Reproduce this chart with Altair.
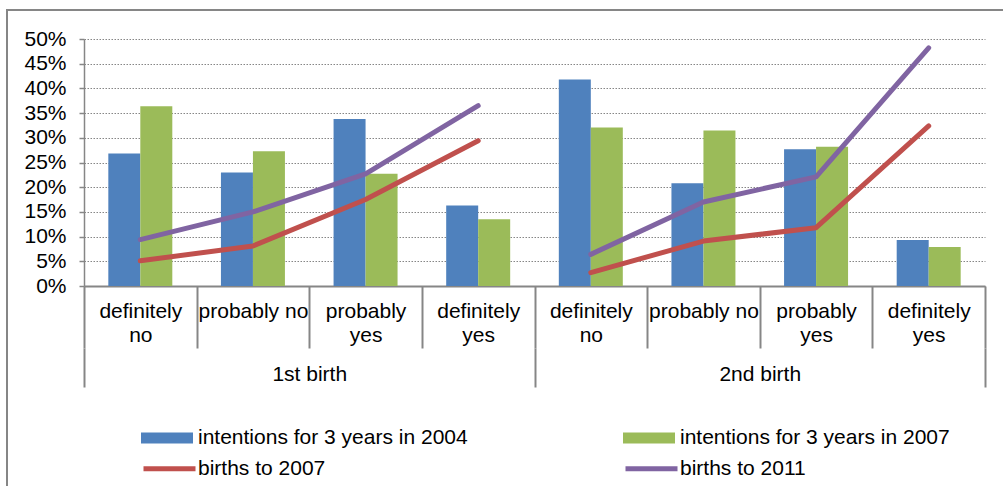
import altair as alt
import pandas as pd

# Categories: birth order groups and answer levels
groups = ["1st birth", "2nd birth"]
answers = ["definitely no", "probably no", "probably yes", "definitely yes"]

# Series names
bar_series = ["intentions for 3 years in 2004", "intentions for 3 years in 2007"]
line_series = ["births to 2007", "births to 2011"]

# Values in percent, ordered 1st birth (4 answers) then 2nd birth (4 answers)
intent_2004 = [26.8, 23.0, 33.8, 16.3, 41.8, 20.8, 27.7, 9.3]
intent_2007 = [36.4, 27.3, 22.7, 13.5, 32.1, 31.5, 28.2, 7.9]
births_2007 = [5.1, 8.1, 17.5, 29.4, 2.7, 9.1, 11.8, 32.4]
births_2011 = [9.4, 15.0, 22.7, 36.5, 6.4, 17.0, 22.1, 48.2]

# Y axis tick values (fractions)
y_ticks = [0.0, 0.05, 0.10, 0.15, 0.20, 0.25, 0.30, 0.35, 0.40, 0.45, 0.50]

FONT = "Liberation Sans"
BLUE, GREEN, RED, PURPLE = "#4F81BD", "#9BBB59", "#C0504D", "#8064A2"
GRAY = "#868686"

W, H = 901, 247

keys = [f"{g} | {a}" for g in groups for a in answers]
key_group = [g for g in groups for _ in answers]

bar_rows = []
for name, vals in zip(bar_series, [intent_2004, intent_2007]):
    for k, v in zip(keys, vals):
        bar_rows.append({"key": k, "series": name, "value": v / 100})
bars_df = pd.DataFrame(bar_rows)

line_rows = []
for name, vals in zip(line_series, [births_2007, births_2011]):
    for i, (k, g, v) in enumerate(zip(keys, key_group, vals)):
        line_rows.append({"key": k, "group": g, "idx": i, "series": name, "value": v / 100})
lines_df = pd.DataFrame(line_rows)

# Answer label under each band; "probably no" fits on one line, the rest wrap
label_expr = (
    "indexof(datum.label + '', ' | ') < 0 ? '' : "
    "(split(datum.label, ' | ')[1] == 'probably no' ? 'probably no' : "
    "split(split(datum.label, ' | ')[1], ' '))"
)

x_enc = alt.X(
    "key:N",
    sort=keys,
    scale=alt.Scale(type="band", paddingInner=0, paddingOuter=0),
    axis=alt.Axis(
        title=None,
        labelExpr=label_expr,
        labelAngle=0,
        labelOverlap=False,
        labelFont=FONT,
        labelFontSize=21,
        labelColor="black",
        labelLineHeight=24,
        labelPadding=-48,
        tickBand="extent",
        tickSize=62,
        tickWidth=2,
        tickColor=GRAY,
        domainColor=GRAY,
        domainWidth=2,
        grid=False,
    ),
)

y_enc = alt.Y(
    "value:Q",
    scale=alt.Scale(domain=[0, 0.5], nice=False, zero=True),
    axis=alt.Axis(
        title=None,
        values=y_ticks,
        format=".0%",
        labelFont=FONT,
        labelFontSize=21,
        labelColor="black",
        labelPadding=13,
        tickSize=5,
        tickWidth=1.5,
        tickColor=GRAY,
        domainColor=GRAY,
        domainWidth=1.5,
        grid=True,
        gridColor=GRAY,
        gridDash=[1.5, 1.5],
        gridWidth=1,
    ),
)

bars = alt.Chart(bars_df).mark_bar().encode(
    x=x_enc,
    xOffset=alt.XOffset(
        "series:N",
        sort=bar_series,
        scale=alt.Scale(domain=bar_series, paddingInner=0, paddingOuter=0.76),
    ),
    y=y_enc,
    color=alt.Color(
        "series:N",
        scale=alt.Scale(domain=bar_series, range=[BLUE, GREEN]),
        legend=alt.Legend(
            title=None,
            orient="none",
            legendX=57,
            legendY=373,
            direction="horizontal",
            columns=2,
            columnPadding=155,
            padding=0,
            symbolType="M-1,-0.21L1,-0.21L1,0.21L-1,0.21Z",
            symbolSize=2704,
            symbolStrokeWidth=0,
            labelOffset=5,
            labelFont=FONT,
            labelFontSize=21,
            labelColor="black",
            labelLimit=400,
        ),
    ),
)

lines = alt.Chart(lines_df).mark_line(strokeWidth=5, strokeCap="round", strokeJoin="round").encode(
    x=x_enc,
    y=y_enc,
    detail="group:N",
    order=alt.Order("idx:Q"),
    color=alt.Color(
        "series:N",
        scale=alt.Scale(domain=line_series, range=[RED, PURPLE]),
        legend=alt.Legend(
            title=None,
            orient="none",
            legendX=57,
            legendY=401,
            direction="horizontal",
            columns=2,
            columnPadding=289,
            padding=0,
            symbolType="stroke",
            symbolSize=2704,
            symbolStrokeWidth=5,
            labelOffset=0,
            labelFont=FONT,
            labelFontSize=21,
            labelColor="black",
            labelLimit=400,
        ),
    ),
)

# Second-level category axis (birth order) under the answer labels
group_axis = alt.Chart(pd.DataFrame({"group": groups})).mark_point(opacity=0).encode(
    x=alt.X(
        "group:N",
        sort=groups,
        scale=alt.Scale(type="band", paddingInner=0, paddingOuter=0),
        axis=alt.Axis(
            title=None,
            orient="bottom",
            offset=62,
            domain=False,
            labelAngle=0,
            labelFont=FONT,
            labelFontSize=21,
            labelColor="black",
            labelPadding=-24,
            tickBand="extent",
            tickSize=39,
            tickWidth=2,
            tickColor=GRAY,
            grid=False,
        ),
    ),
    y=alt.value(0),
)

# Outer chart frame
frame = alt.Chart(alt.Data(values=[{}])).mark_rect(
    fillOpacity=0, stroke=GRAY, strokeWidth=2
).encode(
    x=alt.value(-77), x2=alt.value(940), y=alt.value(-29), y2=alt.value(480)
)

main = alt.layer(bars, lines).resolve_scale(color="independent")

chart = (
    alt.layer(frame, main, group_axis)
    .resolve_scale(x="independent")
    .properties(
        width=W,
        height=H,
        padding={"left": 84, "top": 39, "right": 18, "bottom": 200},
        autosize=alt.AutoSizeParams(type="none"),
        background="white",
    )
    .configure_view(strokeWidth=0)
)

chart.save("out.html", embed_options={"renderer": "svg", "actions": False})
